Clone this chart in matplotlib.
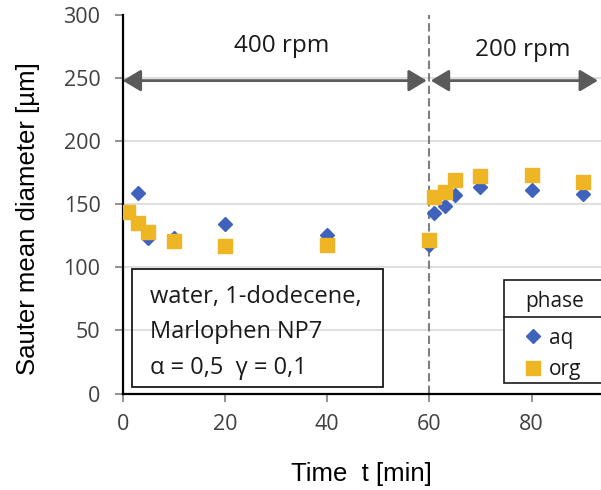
import matplotlib
matplotlib.use('Agg')
import matplotlib.pyplot as plt
from matplotlib.patches import Rectangle

# droplet size data
t_aq = [1, 3, 5, 10, 20, 40, 60, 61, 63, 65, 70, 80, 90]
d32_aq = [144, 159, 123, 123, 134, 126, 118, 143, 149, 157, 164, 161, 158]
t_org = [1, 3, 5, 10, 20, 40, 60, 61, 63, 65, 70, 80, 90]
d32_org = [144, 135, 128, 121, 117, 118, 122, 156, 160, 169, 172, 173, 168]

x_ticks = [0, 20, 40, 60, 80]
y_ticks = [0, 50, 100, 150, 200, 250, 300]
grid_levels = [50, 100, 150, 200, 250]
speed_switch = 60
stages = [("400 rpm", 0, 59.5, 31.2, 270.4), ("200 rpm", 60.3, 93, 78.2, 267.7)]

blue = '#3f62bd'
gold = '#eeb525'
txt_font = 'Open Sans'

fig = plt.figure(figsize=(6.01, 4.90), dpi=100)
ax = fig.add_axes([0.2042, 0.1969, 0.7958, 0.7725])
ax.set_xlim(0, 93.6)
ax.set_ylim(0, 300)

# light horizontal gridlines
ax.hlines(grid_levels, 0, 93.6, colors='#d9d9d9', lw=1.2, zorder=0)

for s in ['top', 'right']:
    ax.spines[s].set_visible(False)
ax.spines['left'].set_linewidth(1.6)
ax.spines['bottom'].set_linewidth(1.6)

ax.set_xticks(x_ticks)
ax.set_yticks(y_ticks)
ax.tick_params(axis='both', direction='out', length=6, width=1.2, color='#7f7f7f',
               labelcolor='#404040', labelsize=15.5)
ax.tick_params(axis='x', pad=9)
ax.tick_params(axis='y', pad=10)
for lab in ax.get_xticklabels() + ax.get_yticklabels():
    lab.set_family(txt_font)

ax.set_xlabel('Time  t [min]', fontsize=18.5, family='Liberation Sans')
ax.set_ylabel('Sauter mean diameter [µm]', fontsize=18.5, family='Liberation Sans')
ax.xaxis.set_label_coords(0.5, -0.18)
ax.yaxis.set_label_coords(-0.173, 0.462)

# speed change marker
ax.axvline(speed_switch, color='#7f7f7f', lw=1.5, ls=(0, (4, 2)), zorder=1, clip_on=False)

# stirring-speed arrows and labels
for label, x0, x1, xt, yt in stages:
    ax.annotate('', xy=(x1, 248), xytext=(x0, 248),
                arrowprops=dict(arrowstyle='<|-|>,head_length=0.5,head_width=0.3',
                                color='#5a5a5a', lw=2, mutation_scale=22,
                                shrinkA=0, shrinkB=0))
    ax.text(xt, yt, label, ha='center', va='baseline', fontsize=17.5, family=txt_font,
            color='#1a1a1a')

# data points
h_aq, = ax.plot(t_aq, d32_aq, 'D', color=blue, markersize=7.5, ls='none', label='aq', zorder=3)
h_org, = ax.plot(t_org, d32_org, 's', color=gold, markersize=9.5, ls='none', label='org', zorder=4)

# system description box
ax.add_patch(Rectangle((1.76, 5.4), 49.2, 93.0, fill=False, ec='#1a1a1a', lw=1.3, zorder=5))
ax.text(5.35, 86.0, 'water, 1-dodecene,\nMarlophen NP7\nα = 0,5  γ = 0,1',
        ha='left', va='top', fontsize=17, family=txt_font,
        linespacing=1.63, color='#1a1a1a', zorder=6)

# legend: frame, title and title rule drawn separately
ax.add_patch(Rectangle((74.6, 8.3), 30, 82.0, fc='white', ec='#1a1a1a', lw=1.2,
                       zorder=6, clip_on=False))
ax.plot([74.6, 104.6], [60.9, 60.9], color='#1a1a1a', lw=1.2, zorder=6.5, clip_on=False)
ax.text(78.7, 68.8, 'phase', ha='left', va='baseline', fontsize=15, family=txt_font,
        color='#1a1a1a', zorder=7)
leg = ax.legend(handles=[h_aq, h_org], loc='upper left',
                bbox_to_anchor=(78.7, 52.1), bbox_transform=ax.transData,
                borderaxespad=0, frameon=False, borderpad=0,
                handlelength=0.8, handletextpad=0.35, labelspacing=0.5,
                prop={'family': txt_font, 'size': 15})
leg.set_zorder(7)
for t in leg.get_texts():
    t.set_color('#1a1a1a')

fig.savefig('out.png', dpi=100)
